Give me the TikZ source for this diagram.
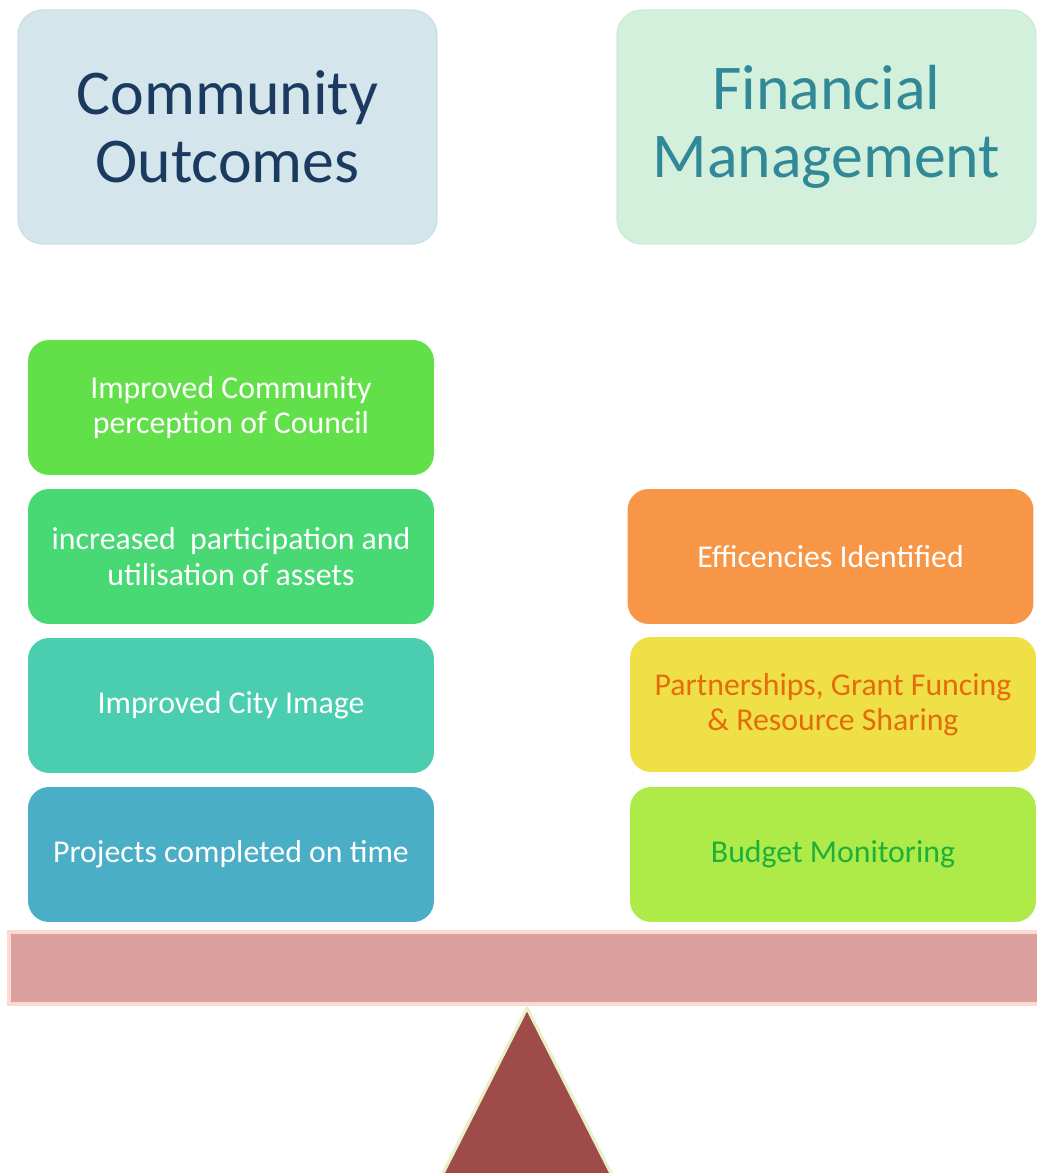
\documentclass[tikz,border=0pt]{standalone}
\usepackage{fontspec}
\setmainfont{Carlito}
\usepackage{tikz}

\definecolor{cobox}{HTML}{D4E5EC}
\definecolor{coline}{HTML}{CCDFE8}
\definecolor{cotext}{HTML}{1B3A60}
\definecolor{fmbox}{HTML}{D3F0DC}
\definecolor{fmline}{HTML}{CBECD6}
\definecolor{fmtext}{HTML}{318896}
\definecolor{greenA}{HTML}{62E04A}
\definecolor{greenB}{HTML}{48D874}
\definecolor{tealC}{HTML}{4ACEAF}
\definecolor{blueD}{HTML}{4AAEC6}
\definecolor{orangeE}{HTML}{F79646}
\definecolor{yellowF}{HTML}{F0E047}
\definecolor{yellowtext}{HTML}{E46C0A}
\definecolor{limeG}{HTML}{AEEA48}
\definecolor{limetext}{HTML}{1DB03A}
\definecolor{beamfill}{HTML}{DB9F9E}
\definecolor{beamline}{HTML}{FBDAD2}
\definecolor{pivotfill}{HTML}{9E4B4A}
\definecolor{pivotline}{HTML}{E8F0C8}

\begin{document}
\begin{tikzpicture}[x=0.02cm,y=-0.02cm,
  headbox/.style={rounded corners=0.5cm,minimum width=8.38cm,minimum height=4.68cm,
    inner sep=0pt,align=center,line width=0.8pt,
    font=\fontsize{36.3}{39}\selectfont},
  itembox/.style={rounded corners=0.42cm,minimum width=8.12cm,minimum height=2.7cm,
    inner sep=0pt,align=center,text=white,
    font=\fontsize{18.1}{20}\selectfont}]
\useasboundingbox (0,0) rectangle (1037,1173);
\clip (0,0) rectangle (1037,1173);

% headings
\node[headbox,fill=cobox,draw=coline,text=cotext] (outcomes) at (227.5,127) {Community\\Outcomes};
\node[headbox,fill=fmbox,draw=fmline,text=fmtext] (finance) at (826.5,127) {Financial\\Management};

% community side
\node[itembox,fill=greenA] (perception) at (231,407.5) {Improved Community\\perception of Council};
\node[itembox,fill=greenB] (assets) at (231,556.5) {increased\ \ participation and\\utilisation of assets};
\node[itembox,fill=tealC] (image) at (231,705.5) {Improved City Image};
\node[itembox,fill=blueD] (ontime) at (231,854.5) {Projects completed on time};

% financial side
\node[itembox,fill=orangeE] (efficiency) at (830.5,556.5) {Efficencies Identified};
\node[itembox,fill=yellowF,text=yellowtext] (partners) at (833,704.5) {Partnerships, Grant Funcing\\\& Resource Sharing};
\node[itembox,fill=limeG,text=limetext] (budget) at (833,854.5) {Budget Monitoring};

% the scale
\draw[fill=beamfill,draw=beamline,line width=2.5pt] (9,932) rectangle (1045,1004);
\draw[fill=pivotfill,draw=pivotline,line width=1.8pt] (527,1008) -- (617,1185) -- (437,1185) -- cycle;
\end{tikzpicture}
\end{document}
